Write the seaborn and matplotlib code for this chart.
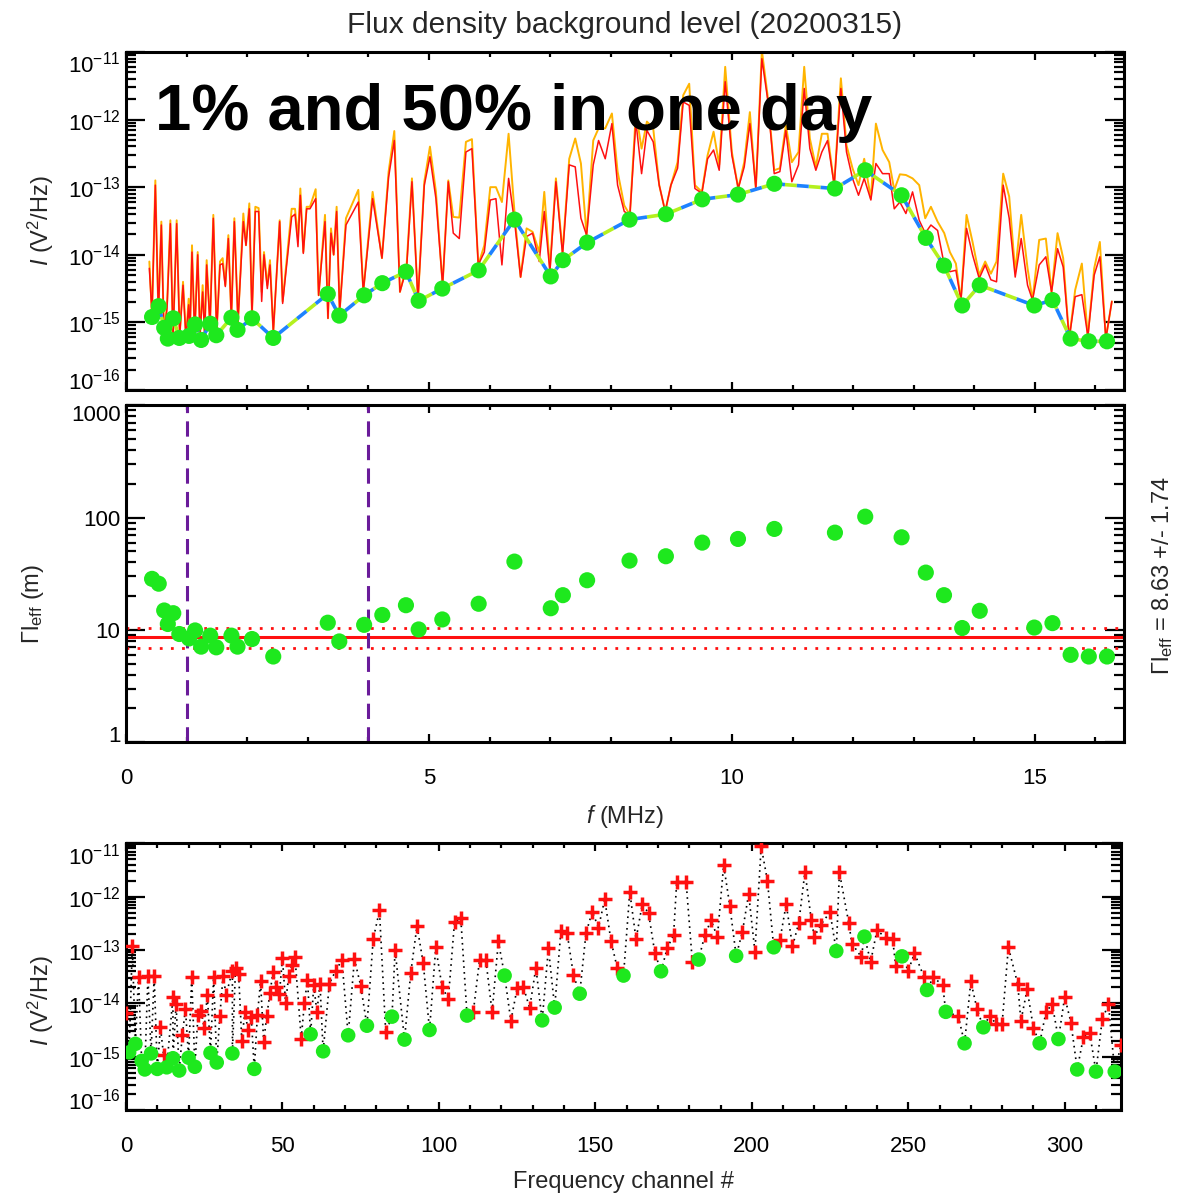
import numpy as np
import pandas as pd
import matplotlib
matplotlib.use("Agg")
import matplotlib.pyplot as plt
import seaborn as sns
from matplotlib.ticker import MultipleLocator, FuncFormatter, NullFormatter, LogLocator, FixedLocator

# ---------------- data ----------------
# top panel: 1% (red) and 50% (orange) levels vs frequency (MHz), log10 of I (V^2/Hz)
freq_line = [0.385, 0.429, 0.484, 0.534, 0.583, 0.627, 0.677, 0.732, 0.776, 0.836, 0.886, 0.941, 0.990, 1.034, 1.056,
             1.089, 1.133, 1.183, 1.221, 1.265, 1.298, 1.331, 1.386, 1.441, 1.496, 1.551, 1.595, 1.639, 1.689, 1.738,
             1.788, 1.848, 1.936, 1.980, 2.035, 2.079, 2.134, 2.189, 2.239, 2.277, 2.332, 2.376, 2.431, 2.536, 2.585,
             2.734, 2.789, 2.838, 2.877, 2.926, 2.981, 3.036, 3.130, 3.179, 3.284, 3.333, 3.383, 3.427, 3.476, 3.526,
             3.630, 3.834, 3.916, 4.070,
             4.224, 4.334, 4.428, 4.521, 4.631, 4.719, 4.818, 4.923, 5.016, 5.115, 5.225, 5.319, 5.401, 5.500, 5.610,
             5.709, 5.814, 5.913, 6.012, 6.105, 6.204, 6.314, 6.419, 6.512, 6.611, 6.710, 6.820, 6.903, 6.996, 7.095,
             7.205, 7.315, 7.414, 7.508, 7.601, 7.711, 7.799, 7.909, 8.019, 8.113, 8.223,
             8.316, 8.415, 8.509, 8.597, 8.701, 8.800, 8.899, 8.993, 9.103, 9.196, 9.295, 9.389, 9.504, 9.598, 9.697,
             9.790, 9.889, 9.999, 10.104, 10.203, 10.296, 10.395, 10.494, 10.588, 10.698, 10.791, 10.890, 10.989,
             11.099, 11.193, 11.286, 11.385, 11.484, 11.578, 11.688, 11.798, 11.891, 11.990, 12.089, 12.183, 12.293,
             12.376, 12.486, 12.596, 12.679, 12.772, 12.871, 12.981, 13.091, 13.190, 13.284, 13.394, 13.504, 13.597,
             13.696, 13.779, 13.872, 13.971, 14.081, 14.180, 14.274, 14.367, 14.477, 14.576, 14.675, 14.774, 14.879,
             14.961, 15.071, 15.181, 15.275, 15.374, 15.467, 15.566, 15.665, 15.775, 15.874, 15.979, 16.072, 16.171,
             16.270]

log_i_p50 = [-14.10, -14.89, -12.90, -14.89, -13.51, -15.19, -14.74, -13.49, -15.24, -13.49, -15.19, -14.40, -15.24,
             -14.65, -15.14, -13.86, -15.19, -13.96, -15.19, -14.45, -15.19, -14.08, -15.04, -13.41, -15.14, -14.10,
             -14.05, -14.45, -13.71, -14.94, -13.46, -14.99, -13.39, -13.86, -13.24, -14.89, -13.29, -13.31, -14.55,
             -13.96, -14.45, -14.08, -15.14, -13.49, -14.69, -13.32, -13.32, -13.76, -13.02, -13.96, -13.29, -13.29,
             -13.03, -14.60, -13.41, -14.94, -13.61, -14.00, -13.29, -14.84, -13.46, -13.04, -14.55, -13.07,
             -14.05, -12.77, -12.17, -14.55, -14.15, -12.87, -14.67, -12.92, -12.40, -13.07, -14.45, -12.90, -13.44,
             -13.45, -12.33, -12.29, -14.15, -13.86, -13.00, -13.00, -13.22, -12.21, -13.46, -14.33, -13.61, -13.66,
             -13.96, -13.07, -14.20, -12.87, -13.96, -12.58, -12.28, -12.65, -13.71, -12.31, -12.13, -12.13, -11.91,
             -12.77, -13.27,
             -13.41, -11.89, -12.43, -12.03, -12.13, -12.97, -13.36, -12.97, -12.63, -11.64, -11.47, -12.97, -13.07,
             -12.53, -12.18, -12.67, -11.22, -12.48, -13.02, -12.63, -11.89, -13.02, -10.98, -11.64, -12.75, -12.72,
             -12.08, -12.63, -12.48, -11.22, -12.28, -12.70, -12.21, -12.21, -12.97, -11.39, -12.38, -12.72, -12.97,
             -12.58, -13.17,
             -12.06, -12.45, -12.63, -13.04, -12.81, -12.82, -12.87, -12.97, -13.46, -13.29, -13.51, -13.68, -13.96,
             -14.13, -14.67, -13.41, -13.81, -14.30, -14.10, -14.28, -14.10, -12.80, -13.14, -14.25, -13.41, -14.20,
             -14.67, -13.78, -13.76, -14.55, -13.68, -14.05, -15.24, -14.52, -14.13, -15.21, -14.20, -13.81, -15.24,
             -14.69]

log_i_p01 = [-14.20, -14.89, -12.97, -14.89, -13.56, -15.19, -14.79, -13.54, -15.24, -13.54, -15.19, -14.45, -15.24,
             -14.74, -15.14, -13.96, -15.19, -14.00, -15.19, -14.55, -15.19, -14.15, -15.04, -13.46, -15.14, -14.15,
             -14.13, -14.47, -13.76, -14.94, -13.51, -14.99, -13.51, -13.86, -13.32, -14.89, -13.36, -13.36, -14.69,
             -14.00, -14.50, -14.15, -15.14, -13.51, -14.72, -13.44, -13.40, -13.88, -13.12, -13.98, -13.32, -13.32,
             -13.17, -14.60, -13.51, -14.94, -13.68, -14.00, -13.36, -14.84, -13.56, -13.22, -14.55, -13.17,
             -14.05, -12.85, -12.31, -14.55, -14.20, -12.92, -14.67, -12.97, -12.55, -13.17, -14.45, -12.92, -13.68,
             -13.76, -12.48, -12.43, -14.15, -13.96, -13.19, -13.17, -14.15, -12.87, -13.56, -14.33, -13.73, -13.68,
             -14.10, -13.36, -14.25, -12.92, -14.00, -12.67, -12.70, -13.46, -13.71, -12.67, -12.31, -12.58, -12.06,
             -12.97, -13.36,
             -13.41, -12.03, -12.80, -12.16, -12.33, -12.97, -13.36, -12.97, -12.72, -11.74, -11.79, -13.02, -13.09,
             -12.58, -12.45, -12.75, -11.44, -12.53, -13.02, -12.70, -12.06, -13.02, -11.10, -11.69, -12.80, -12.77,
             -12.16, -12.92, -12.67, -11.54, -12.43, -12.75, -12.48, -12.31, -12.97, -11.54, -12.48, -12.87, -13.12,
             -12.87, -13.19,
             -12.65, -12.80, -12.80, -13.32, -13.22, -13.39, -13.07, -13.49, -13.68, -13.56, -13.64, -14.15, -14.25,
             -14.23, -14.67, -13.61, -14.00, -14.35, -14.15, -14.37, -14.40, -12.97, -13.46, -14.33, -13.76, -14.45,
             -14.67, -14.15, -14.03, -14.55, -13.91, -14.18, -15.24, -14.62, -14.59, -15.21, -14.30, -14.03, -15.24,
             -14.69]

# background points (green)
freq_bg = [0.43, 0.54, 0.63, 0.69, 0.78, 0.88, 1.04, 1.14, 1.24, 1.39, 1.49, 1.74, 1.84, 2.08, 2.43, 3.33, 3.52,
           3.93, 4.23, 4.62, 4.83, 5.22, 5.82, 6.41, 7.01, 7.21, 7.61, 8.31, 8.91, 9.51, 10.10, 10.70, 11.70, 12.20,
           12.80, 13.20, 13.50, 13.80, 14.09, 14.99, 15.29, 15.59, 15.89, 16.19]
log_i_bg = [-14.92, -14.76, -15.08, -15.24, -14.94, -15.23, -15.20, -15.03, -15.26, -15.02, -15.19, -14.93, -15.11,
            -14.94, -15.23, -14.58, -14.90, -14.60, -14.42, -14.25, -14.68, -14.50, -14.23, -13.48, -14.32, -14.08,
            -13.82, -13.48, -13.40, -13.18, -13.11, -12.95, -13.02, -12.75, -13.12, -13.75, -14.16, -14.75, -14.45,
            -14.75, -14.67, -15.24, -15.28, -15.28]
gamma_leff = [28.5, 25.8, 14.9, 11.3, 14.1, 9.2, 8.4, 9.9, 7.1, 8.9, 7.0, 8.9, 7.1, 8.3, 5.8, 11.6, 7.9, 11.1, 13.6,
              16.6, 10.1, 12.4, 17.1, 40.6, 15.6, 20.4, 27.7, 41.4, 45.3, 59.9, 64.6, 79.3, 73.5, 102.0, 66.8, 32.4,
              20.4, 10.4, 14.8, 10.5, 11.5, 6.0, 5.8, 5.8]
ch_bg = [1, 3, 5, 6, 8, 10, 13, 15, 17, 20, 22, 27, 29, 34, 41, 59, 63, 71, 77, 85, 89, 97, 109, 121, 133, 137, 145,
         159, 171, 183, 195, 207, 227, 236, 248, 256, 262, 268, 274, 292, 298, 304, 310, 316]

gl_mean = 8.63
gl_std = 1.74
f_band = [1.0, 4.0]

# bottom panel: level per frequency channel (red crosses)
ch_cross = [0, 2, 4, 7, 9, 11, 12, 15, 16, 18, 19, 21, 23, 24, 25, 26, 28, 30, 31, 32, 34, 35, 36, 37, 38, 39, 40,
            42, 43, 44, 45, 46, 47, 48, 49, 50, 51, 52, 53, 54, 56, 57, 58, 60, 61, 62, 65, 67, 69, 73, 75, 79, 81,
            83, 86, 91, 93, 95, 99, 101, 103, 105, 107, 111, 113, 115, 117, 119, 123, 125, 127, 129, 131, 135, 139,
            141, 143, 147, 149, 151, 153, 155, 157, 161, 163, 165, 167, 169, 173, 175, 176, 179, 181, 185, 187, 189,
            191, 193, 197, 199, 201, 203, 205, 209, 211, 213, 215, 217, 219, 220, 222, 225, 228, 231, 232, 235, 238,
            240, 243, 245, 246, 250, 252, 255, 258, 261, 266, 270, 272, 276, 278, 280, 282, 285, 286, 288, 290, 294,
            296, 300, 302, 306, 308, 312, 314, 318]
log_i_cross = [-14.19, -12.93, -13.50, -13.49, -13.49, -14.45, -14.97, -13.89, -14.02, -14.59, -14.11, -13.50,
               -14.22, -14.14, -14.47, -13.84, -13.51, -14.23, -13.49, -13.84, -13.39, -13.33, -13.46, -14.70, -14.16,
               -14.50, -14.25, -14.22, -13.59, -14.72, -14.23, -13.81, -13.41, -13.69, -13.83, -13.16, -13.99, -13.49,
               -13.28, -13.13, -14.66, -14.00, -13.56, -13.66, -14.16, -13.64, -13.63, -13.39, -13.19, -13.17, -13.67,
               -12.80, -12.26, -14.54, -13.00, -13.43, -12.55, -13.25, -12.95, -13.69, -13.92, -12.47, -12.41, -14.16,
               -13.18, -13.18, -14.17, -12.84, -14.33, -13.72, -13.69, -14.09, -13.33, -12.97, -12.64, -12.69, -13.47,
               -12.69, -12.28, -12.58, -12.05, -12.83, -13.34, -11.91, -12.80, -12.14, -12.31, -13.05, -12.96, -12.72,
               -11.72, -11.72, -13.22, -12.72, -12.44, -12.76, -11.41, -12.18, -12.66, -11.95, -13.03, -11.06, -11.70,
               -12.81, -12.14, -12.93, -12.50, -11.53, -12.43, -12.75, -12.53, -12.29, -11.54, -12.50, -12.88, -13.13,
               -13.22, -12.63, -12.78, -12.79, -13.30, -13.39, -13.06, -13.50, -13.51, -13.66, -14.24, -13.59, -14.11,
               -14.23, -14.38, -14.38, -12.95, -13.64, -14.33, -13.74, -14.46, -14.17, -14.01, -13.88, -14.36, -14.63,
               -14.56, -14.30, -14.02, -14.78]

i_ticks = [1e-16, 1e-15, 1e-14, 1e-13, 1e-12, 1e-11]
gl_ticks = [1, 10, 100, 1000]

# ---------------- style ----------------
sns.set_theme(style="ticks")
plt.rcParams["font.family"] = ["Liberation Sans", "DejaVu Sans"]
plt.rcParams["mathtext.fontset"] = "custom"
plt.rcParams["mathtext.rm"] = "Liberation Sans"
plt.rcParams["mathtext.it"] = "Liberation Sans:italic"
plt.rcParams["mathtext.bf"] = "Liberation Sans:bold"

GREEN = "#1ee81e"
ORANGE = "#ffb400"
RED = "#ff1010"
PURPLE = "#6a1b9a"
TICK_FS = 16
LAB_FS = 17

df_line = pd.DataFrame({"f": freq_line,
                        "p50": 10.0 ** np.array(log_i_p50),
                        "p01": 10.0 ** np.array(log_i_p01)})
df_bg = pd.DataFrame({"f": freq_bg, "I": 10.0 ** np.array(log_i_bg), "gl": gamma_leff, "ch": ch_bg})
df_cross = pd.DataFrame({"ch": ch_cross, "I": 10.0 ** np.array(log_i_cross)})
df_path = pd.concat([df_cross, df_bg[["ch", "I"]]]).sort_values("ch", kind="mergesort")

fig = plt.figure(figsize=(11.81, 11.97), dpi=100)
ax1 = fig.add_axes([0.1067, 0.6742, 0.845, 0.2824])
ax2 = fig.add_axes([0.1067, 0.3799, 0.845, 0.2815])
ax3 = fig.add_axes([0.1067, 0.0727, 0.8425, 0.2228])

# ---- top panel ----
sns.lineplot(data=df_line, x="f", y="p50", ax=ax1, color=ORANGE, lw=1.4, sort=False, estimator=None)
sns.lineplot(data=df_line, x="f", y="p01", ax=ax1, color=RED, lw=1.1, sort=False, estimator=None)
sns.lineplot(data=df_bg, x="f", y="I", ax=ax1, color="#b4f01e", lw=2.6, sort=False, estimator=None,
             linestyle=(0, (3.3, 3.3)))
sns.lineplot(data=df_bg, x="f", y="I", ax=ax1, color="#1e82ff", lw=2.6, sort=False, estimator=None,
             linestyle=(3.3, (3.3, 3.3)))
sns.scatterplot(data=df_bg, x="f", y="I", ax=ax1, color=GREEN, s=135, edgecolor="none", zorder=5)
ax1.set_yscale("log")
ax1.set_ylim(1e-16, 1e-11)
ax1.set_xlim(0, 16.47)
ax1.tick_params(labelbottom=False)
ax1.set_xlabel("")
ax1.set_ylabel(r"$I$ (V$^2$/Hz)", fontsize=LAB_FS)
ax1.yaxis.set_label_coords(-0.070, 0.5)
ax1.text(0.029, 0.769, "1% and 50% in one day", transform=ax1.transAxes, fontsize=47,
         fontweight="bold", ha="left", va="baseline", color="black")

# ---- middle panel ----
sns.scatterplot(data=df_bg, x="f", y="gl", ax=ax2, color=GREEN, s=135, edgecolor="none", zorder=5)
ax2.axhline(gl_mean, color=RED, lw=2.2)
ax2.axhline(gl_mean + gl_std, color=RED, lw=2.0, linestyle=(0, (1, 3)))
ax2.axhline(gl_mean - gl_std, color=RED, lw=2.0, linestyle=(0, (1, 3)))
for fb in f_band:
    ax2.axvline(fb, color=PURPLE, lw=2.2, linestyle=(0, (5, 2.7)))
ax2.set_yscale("log")
ax2.set_ylim(1, 1000)
ax2.set_xlim(0, 16.47)
ax2.set_xlabel(r"$f$ (MHz)", fontsize=LAB_FS)
ax2.xaxis.set_label_coords(0.5, -0.180)
ax2.set_ylabel(r"$\Gamma$l$_{\rm eff}$ (m)", fontsize=LAB_FS)
ax2.yaxis.set_label_coords(-0.080, 0.41)
fig.text(0.9848, 0.5196, r"$\Gamma$l$_{\rm eff}$ = 8.63 +/- 1.74", rotation=90, ha="center", va="center",
         fontsize=LAB_FS)

# ---- bottom panel ----
sns.lineplot(data=df_path, x="ch", y="I", ax=ax3, color="black", lw=1.2, sort=False, estimator=None,
             linestyle=(0, (1, 2.5)))
sns.scatterplot(data=df_cross, x="ch", y="I", ax=ax3, marker="+", s=110, color=RED, linewidth=2.5, zorder=4)
sns.scatterplot(data=df_bg, x="ch", y="I", ax=ax3, color=GREEN, s=110, edgecolor="none", zorder=5)
ax3.set_yscale("log")
ax3.set_ylim(1e-16, 1e-11)
ax3.set_xlim(0, 318)
ax3.set_xlabel("Frequency channel #", fontsize=LAB_FS)
ax3.xaxis.set_label_coords(0.5, -0.229)
ax3.set_ylabel(r"$I$ (V$^2$/Hz)", fontsize=LAB_FS)
ax3.yaxis.set_label_coords(-0.070, 0.41)

# ---- ticks / spines ----
for ax in (ax1, ax2):
    ax.xaxis.set_major_locator(MultipleLocator(5))
    ax.xaxis.set_minor_locator(MultipleLocator(1))
ax3.xaxis.set_major_locator(MultipleLocator(50))
ax3.xaxis.set_minor_locator(MultipleLocator(10))
ax1.yaxis.set_major_locator(FixedLocator(i_ticks))
ax3.yaxis.set_major_locator(FixedLocator(i_ticks))
ax2.yaxis.set_major_locator(FixedLocator(gl_ticks))
ax2.yaxis.set_major_formatter(FuncFormatter(lambda v, p: f"{v:g}"))
for ax in (ax1, ax2, ax3):
    ax.yaxis.set_minor_locator(LogLocator(base=10, subs=np.arange(2, 10), numticks=20))
    ax.yaxis.set_minor_formatter(NullFormatter())
    ax.tick_params(which="both", direction="in", top=True, right=True, colors="black")
    ax.tick_params(axis="x", which="major", length=6, width=1.6, labelsize=TICK_FS, pad=18.5)
    ax.tick_params(axis="x", which="minor", length=3.5, width=1.6)
    ax.tick_params(axis="y", which="major", length=14, width=1.6, labelsize=TICK_FS, pad=4)
    ax.tick_params(axis="y", which="minor", length=7.5, width=1.6)
    for sp in ax.spines.values():
        sp.set_linewidth(2.2)
        sp.set_color("black")
    ax.set_facecolor("white")

fig.text(0.529, 0.979, "Flux density background level (20200315)", ha="center", va="center", fontsize=21.5)

# keep edge labels of the log axes inside the frame
fig.canvas.draw()
for ax in (ax1, ax2, ax3):
    mt = ax.yaxis.get_major_ticks()
    mt[0].label1.set_va("baseline")
    mt[-1].label1.set_va("top")

fig.savefig("out.png", dpi=100, facecolor="white")
